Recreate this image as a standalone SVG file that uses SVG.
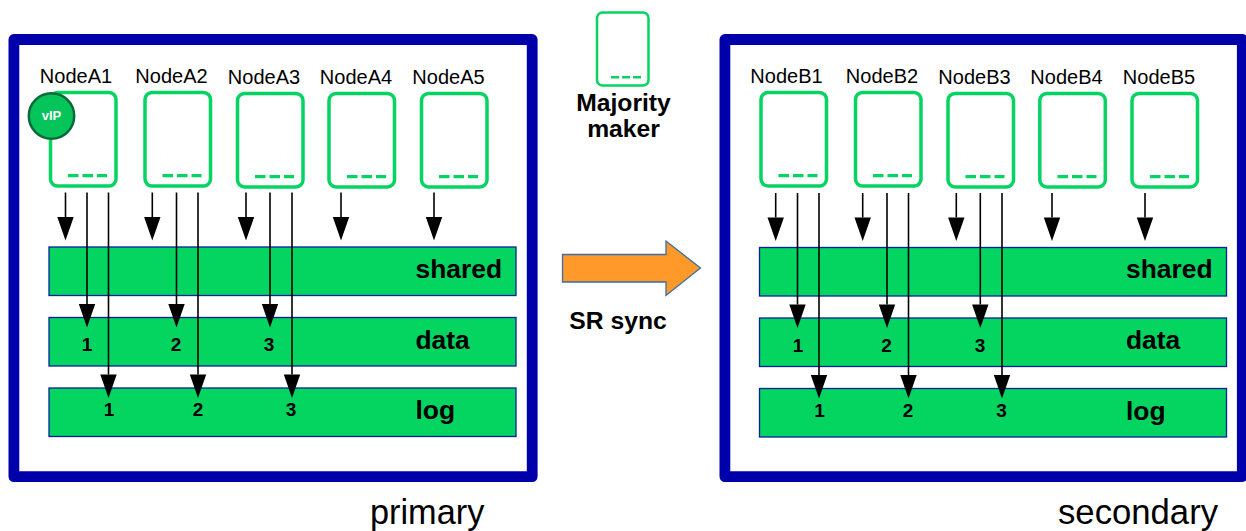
<svg xmlns="http://www.w3.org/2000/svg" width="1246" height="531" viewBox="0 0 1246 531">
<style>
text{font-family:"Liberation Sans",Arial,sans-serif;fill:#000}
.frame{fill:#fff;stroke:#0000aa;stroke-width:10.8;stroke-linejoin:round}
.srv{fill:#fff;stroke:#06d462;stroke-width:3.5}
.dash{fill:none;stroke:#06d462;stroke-width:3.3;stroke-dasharray:10.500 4}
.bar{fill:#04d460;stroke:#0a1fa0;stroke-width:1.300}
.nl{font-size:20px;text-anchor:middle}
.bl{font-size:26.4px;font-weight:bold}
.n{font-size:19px;font-weight:bold;text-anchor:middle}
.bold{font-size:24.7px;font-weight:bold;text-anchor:middle}
.ar{stroke:#000;stroke-width:1.600;fill:none;marker-end:url(#h)}
</style>
<defs>
<marker id="h" markerUnits="userSpaceOnUse" markerWidth="24" markerHeight="17" refX="0" refY="8.200" orient="auto" overflow="visible"><path d="M0 0L23.500 8.200L0 16.400Z" fill="#000"/></marker>
</defs>
<g id="frame-primary"><rect class="frame" x="13.900" y="39.500" width="518.300" height="437.100"/></g>
<g id="frame-secondary"><rect class="frame" x="724.900" y="39.500" width="517.400" height="437.100"/></g>

<g id="bars-primary">
<g id="A-shared"><rect class="bar" x="49" y="247" width="467" height="48.500"/><text class="bl" x="415.500" y="278">shared</text></g>
<g id="A-data"><rect class="bar" x="49" y="317.500" width="467" height="48.500"/><text class="bl" x="415.500" y="349">data</text><text class="n" x="87" y="351">1</text><text class="n" x="176" y="351">2</text><text class="n" x="269" y="351">3</text></g>
<g id="A-log"><rect class="bar" x="49" y="388" width="467" height="48.500"/><text class="bl" x="415.500" y="419">log</text><text class="n" x="109" y="416">1</text><text class="n" x="198" y="416">2</text><text class="n" x="291" y="416">3</text></g>
</g>
<g id="bars-secondary">
<g id="B-shared"><rect class="bar" x="759.500" y="247.500" width="467" height="48.500"/><text class="bl" x="1126" y="278">shared</text></g>
<g id="B-data"><rect class="bar" x="759.500" y="318" width="467" height="48.500"/><text class="bl" x="1126" y="349">data</text><text class="n" x="798" y="352">1</text><text class="n" x="886.500" y="352">2</text><text class="n" x="980" y="352">3</text></g>
<g id="B-log"><rect class="bar" x="759.500" y="388.500" width="467" height="48.500"/><text class="bl" x="1126" y="420">log</text><text class="n" x="819.500" y="417">1</text><text class="n" x="908" y="417">2</text><text class="n" x="1001.500" y="417">3</text></g>
</g>

<g id="NodeA1"><rect class="srv" x="50.500" y="92.500" width="65.500" height="93.500" rx="7"/><path class="dash" d="M68 175.700H107"/><text class="nl" x="76" y="83">NodeA1</text></g>
<g id="NodeA2"><rect class="srv" x="145" y="92.500" width="65.500" height="93.500" rx="7"/><path class="dash" d="M162.500 175.700H201.500"/><text class="nl" x="171.500" y="83">NodeA2</text></g>
<g id="NodeA3"><rect class="srv" x="237.500" y="93.400" width="65.500" height="93.500" rx="7"/><path class="dash" d="M255 176.700H294"/><text class="nl" x="264" y="84">NodeA3</text></g>
<g id="NodeA4"><rect class="srv" x="329" y="93.400" width="65.500" height="93.500" rx="7"/><path class="dash" d="M347 176.700H386"/><text class="nl" x="356" y="84">NodeA4</text></g>
<g id="NodeA5"><rect class="srv" x="421.500" y="93.400" width="65.500" height="93.500" rx="7"/><path class="dash" d="M439 176.700H478"/><text class="nl" x="448.500" y="84">NodeA5</text></g>
<g id="vIP"><circle cx="51.500" cy="116" r="22.700" fill="#04c45a" stroke="#0a6a3a" stroke-width="2.500"/><text x="51.500" y="120" font-size="13" font-weight="bold" text-anchor="middle" style="fill:#fff">vIP</text></g>

<g id="NodeB1"><rect class="srv" x="761" y="92.500" width="65.500" height="93.500" rx="7"/><path class="dash" d="M778.500 175.700H817.500"/><text class="nl" x="786.500" y="83">NodeB1</text></g>
<g id="NodeB2"><rect class="srv" x="855.500" y="92.500" width="65.500" height="93.500" rx="7"/><path class="dash" d="M873 175.700H912"/><text class="nl" x="882" y="83">NodeB2</text></g>
<g id="NodeB3"><rect class="srv" x="948" y="93.400" width="65.500" height="93.500" rx="7"/><path class="dash" d="M965.500 176.700H1004.500"/><text class="nl" x="974.500" y="84">NodeB3</text></g>
<g id="NodeB4"><rect class="srv" x="1039.800" y="93.400" width="65.500" height="93.500" rx="7"/><path class="dash" d="M1057.500 176.700H1096.500"/><text class="nl" x="1066.500" y="84">NodeB4</text></g>
<g id="NodeB5"><rect class="srv" x="1132" y="93.400" width="65.500" height="93.500" rx="7"/><path class="dash" d="M1150 176.700H1189"/><text class="nl" x="1159" y="84">NodeB5</text></g>

<g id="majority-maker"><rect class="srv" x="597" y="12.500" width="51.500" height="73" rx="5.500" style="stroke-width:2.500"/><path d="M611 77.300H641" fill="none" stroke="#06d462" stroke-width="2.500" stroke-dasharray="8 3"/><text class="bold" x="623.500" y="111">Majority</text><text class="bold" x="623.500" y="137">maker</text></g>
<g id="sr-sync"><path d="M562.500 254.500H666V241L700.500 268L666 295.500V282H562.500Z" fill="#ff9a2a" stroke="#3a6ea5" stroke-width="1.300"/><text class="bold" x="618" y="329">SR sync</text></g>

<text x="370" y="524" font-size="34.3">primary</text>
<text x="1058" y="524" font-size="34.700">secondary</text>

<g id="connectors">
<path class="ar" d="M65.500 192.500V217"/><path class="ar" d="M87 192.500V304"/><path class="ar" d="M108.500 192.500V374.500"/>
<path class="ar" d="M152.300 192.500V217"/><path class="ar" d="M176.500 192.500V304"/><path class="ar" d="M198 192.500V374.500"/>
<path class="ar" d="M246 192.500V217"/><path class="ar" d="M270 192.500V304"/><path class="ar" d="M292 192.500V374.500"/>
<path class="ar" d="M341 192.500V217"/><path class="ar" d="M434 192.500V217"/>
<path class="ar" d="M775.700 193V217.500"/><path class="ar" d="M797.500 193V304.500"/><path class="ar" d="M819 193V375"/>
<path class="ar" d="M862.700 193V217.500"/><path class="ar" d="M887 193V304.500"/><path class="ar" d="M908.500 193V375"/>
<path class="ar" d="M956.300 193V217.500"/><path class="ar" d="M980.300 193V304.500"/><path class="ar" d="M1002 193V375"/>
<path class="ar" d="M1052 193V217.500"/><path class="ar" d="M1145 193V217.500"/>
</g>
</svg>
